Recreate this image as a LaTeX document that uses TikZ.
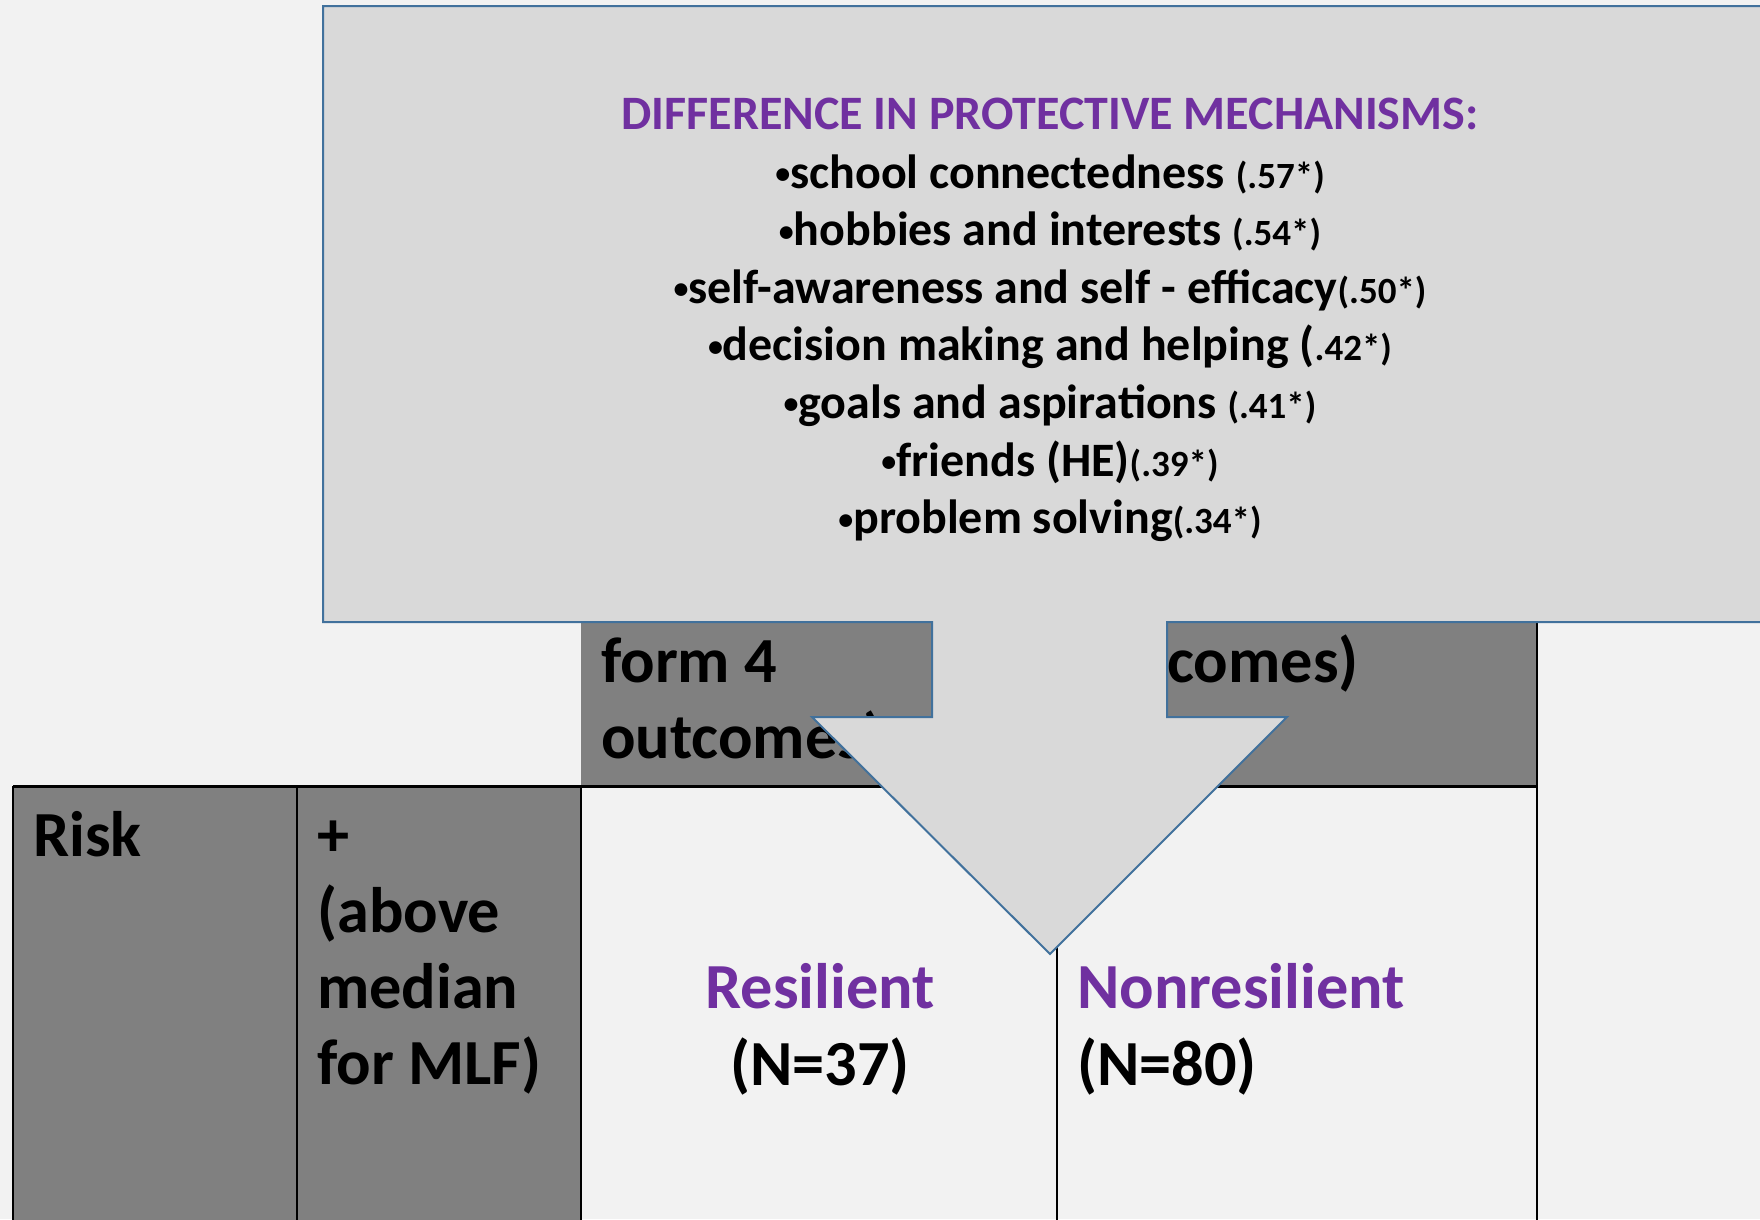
\documentclass[tikz,border=0pt]{standalone}
\usepackage{fontspec}
\setmainfont{Carlito}
\definecolor{bg}{HTML}{F2F2F2}
\definecolor{callout}{HTML}{D9D9D9}
\definecolor{cellgray}{HTML}{808080}
\definecolor{edge}{HTML}{41719C}
\definecolor{accent}{HTML}{7030A0}
\newcommand\itemtxt{\fontsize{48}{57.6}\selectfont}
\newcommand\numtxt{\fontsize{37}{40}\selectfont}
\newcommand\headtxt{\fontsize{48}{57.6}\selectfont}
\newcommand\celltxt{\fontsize{64.3}{76}\selectfont}
\newcommand\blt{{\fontsize{30}{30}\selectfont\raisebox{4.5pt}{•}}}
\begin{document}
\begin{tikzpicture}[x=1pt,y=-1pt,
  txt/.style={inner sep=0pt,font=\bfseries},
  rule/.style={draw=black,line width=2pt},
  calloutshape/.style={fill=callout,draw=edge,line width=2pt,line join=miter}]
\useasboundingbox (0,0) rectangle (1760,1219);
\clip (0,0) rectangle (1760,1219);
\fill[bg] (0,0) rectangle (1760,1219);

% header band and risk cells
\fill[cellgray] (581,600) rectangle (1537,786);
\fill[cellgray] (13,786) rectangle (581,1230);

% table rules
\draw[rule,line width=3pt] (13,786) -- (1537,786);
\draw[rule] (13,786) -- (13,1230);
\draw[rule] (297,786) -- (297,1230);
\draw[rule] (581,786) -- (581,1230);
\draw[rule] (1057,786) -- (1057,1230);
\draw[rule] (1537,600) -- (1537,1230);

% header text
\node[txt,anchor=base west] (hl1) at (601,682) {\celltxt form 4};
\node[txt,anchor=base west] (hl2) at (601,758) {\celltxt outcomes)};
\node[txt,anchor=base west] (hr1) at (1167,682) {\celltxt comes)};

% body text
\node[txt,anchor=base west] (risk) at (33,856) {\celltxt Risk};
\node[txt,anchor=base west] (plus) at (317,856) {\celltxt +};
\node[txt,anchor=base west] (above) at (317,932) {\celltxt (above};
\node[txt,anchor=base west] (median) at (317,1008) {\celltxt median};
\node[txt,anchor=base west] (mlf) at (317,1084) {\celltxt for MLF)};
\node[txt,anchor=base,text=accent] (res) at (820,1008) {\celltxt Resilient};
\node[txt,anchor=base] (resn) at (820,1085) {\celltxt (N=37)};
\node[txt,anchor=base west,text=accent] (nonres) at (1077,1008) {\celltxt Nonresilient};
\node[txt,anchor=base west] (nonresn) at (1077,1085) {\celltxt (N=80)};

% down-arrow callout
\path[calloutshape] (323,6) -- (1778,6) -- (1778,622) -- (1167,622) -- (1167,717)
  -- (1287,717) -- (1050,954) -- (812,717) -- (932,717) -- (932,622) -- (323,622) -- cycle;

\node[txt,anchor=base,text=accent] (title) at (1050,129) {\headtxt DIFFERENCE IN PROTECTIVE MECHANISMS:};
\node[txt,anchor=base] (m1) at (1050,188) {\itemtxt\blt school connectedness {\numtxt(.57*)}};
\node[txt,anchor=base] (m2) at (1050,245.6) {\itemtxt\blt hobbies and interests {\numtxt(.54*)}};
\node[txt,anchor=base] (m3) at (1050,303.2) {\itemtxt\blt self-awareness and self - efficacy{\numtxt(.50*)}};
\node[txt,anchor=base] (m4) at (1050,360.8) {\itemtxt\blt decision making and helping ({\numtxt.42*)}};
\node[txt,anchor=base] (m5) at (1050,418.4) {\itemtxt\blt goals and aspirations {\numtxt(.41*)}};
\node[txt,anchor=base] (m6) at (1050,476) {\itemtxt\blt friends (HE){\numtxt(.39*)}};
\node[txt,anchor=base] (m7) at (1050,533.6) {\itemtxt\blt problem solving{\numtxt(.34*)}};
\end{tikzpicture}
\end{document}
